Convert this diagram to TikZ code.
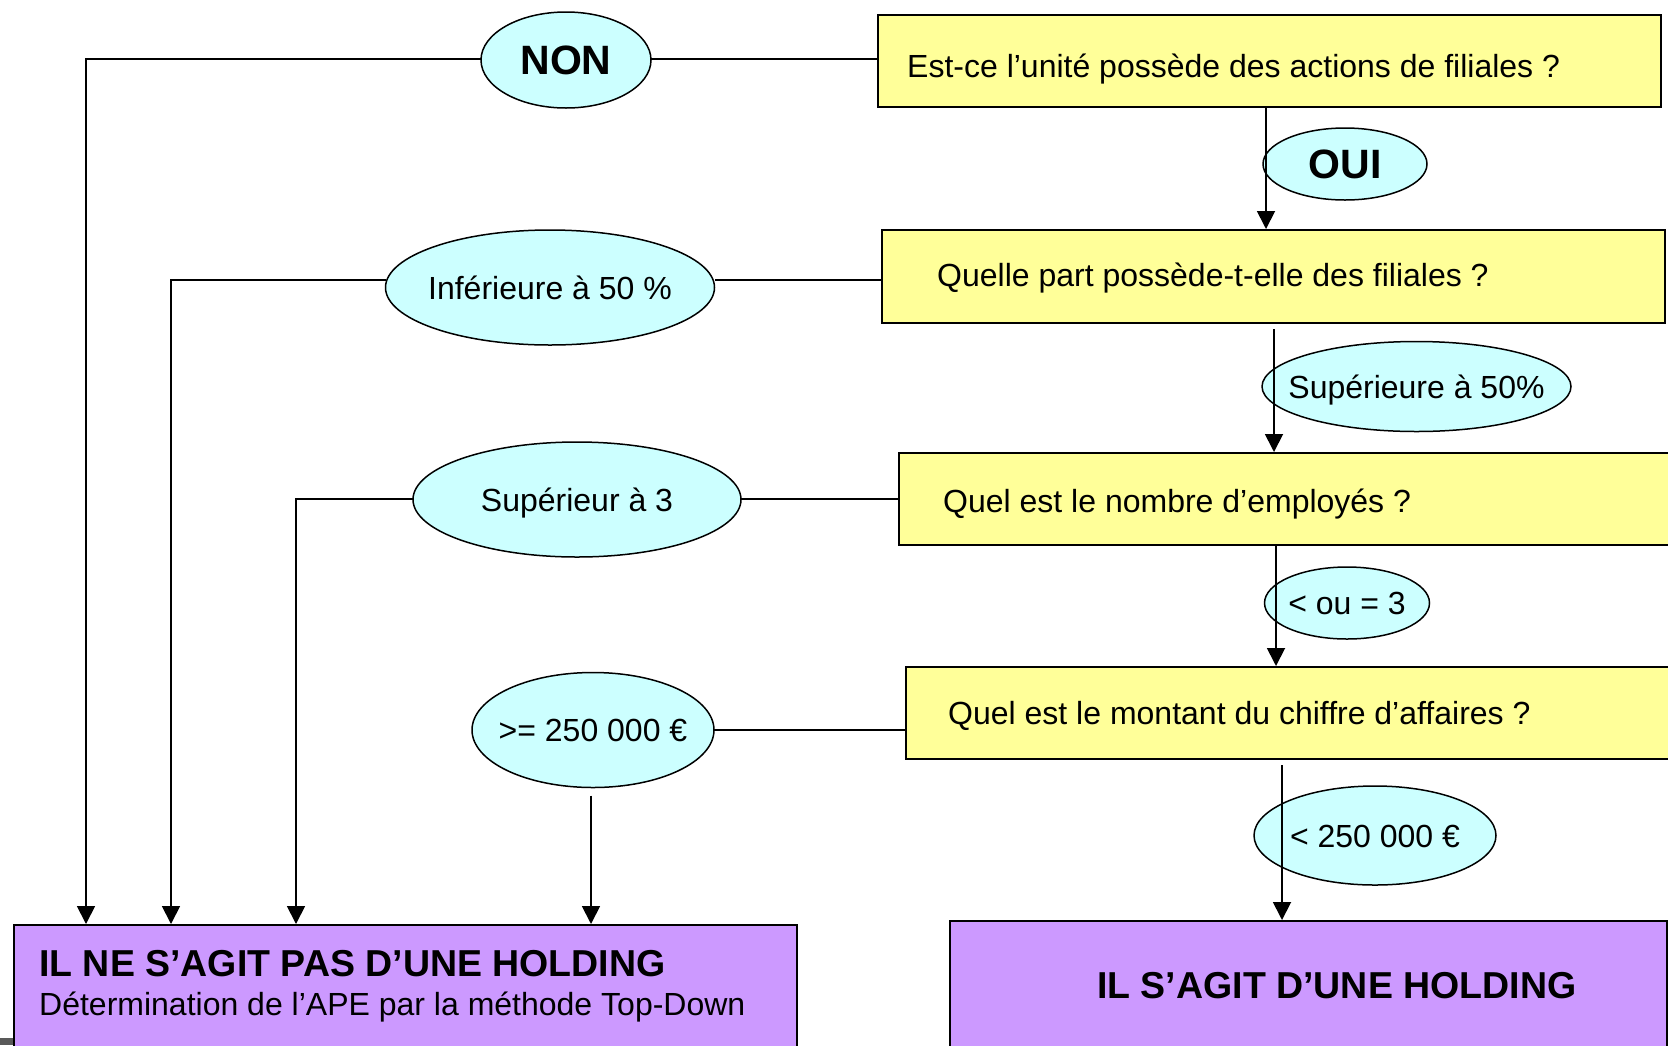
\documentclass[tikz,border=0pt]{standalone}
\usepackage{fontspec}
\setmainfont{Liberation Sans}
\usetikzlibrary{shapes.geometric,arrows.meta}
\definecolor{qyellow}{HTML}{FFFF99}
\definecolor{lcyan}{HTML}{CCFFFF}
\definecolor{lpurple}{HTML}{CC99FF}
\begin{document}
\begin{tikzpicture}[x=1pt,y=-1pt,
  qbox/.style={draw=black, line width=2pt, fill=qyellow, rectangle, inner sep=0pt, anchor=north west},
  hbox/.style={draw=black, line width=2pt, fill=lpurple, rectangle, inner sep=0pt, anchor=north west},
  oval/.style={ellipse, draw=black, line width=1.5pt, fill=lcyan, inner sep=0pt, outer sep=0pt},
  otext/.style={inner sep=0pt, font=\fontsize{32}{38}\selectfont, text height=23pt, text depth=0pt},
  btext/.style={inner sep=0pt, font=\fontsize{41}{48}\selectfont\bfseries, text height=29.4pt, text depth=0pt},
  qtext/.style={inner sep=0pt, anchor=west, font=\fontsize{32}{38}\selectfont, text height=23pt, text depth=0pt},
  htext/.style={inner sep=0pt, anchor=west, font=\fontsize{37.5}{44}\selectfont\bfseries, text height=26.8pt, text depth=0pt},
  conn/.style={draw=black, line width=1.8pt},
  arr/.style={conn, -{Triangle[length=18pt,width=18pt]}}
]
\useasboundingbox (0,0) rectangle (1668,1045);

% question boxes
\node[qbox, minimum width=783pt, minimum height=92pt] (q1) at (877,14) {};
\node[qbox, minimum width=783pt, minimum height=93pt] (q2) at (881,229) {};
\node[qbox, minimum width=780pt, minimum height=92pt] (q3) at (898,452) {};
\node[qbox, minimum width=773pt, minimum height=92pt] (q4) at (905,666) {};
\node[qtext] (q1t) at (907,66) {Est-ce l’unité possède des actions de filiales ?};
\node[qtext] (q2t) at (937,275) {Quelle part possède-t-elle des filiales ?};
\node[qtext] (q3t) at (943,501) {Quel est le nombre d’employés ?};
\node[qtext] (q4t) at (948,713) {Quel est le montant du chiffre d’affaires ?};

% result boxes
\node[hbox, minimum width=717pt, minimum height=150pt] (h5) at (949,920) {};
\node[hbox, minimum width=783pt, minimum height=146pt] (h6) at (13,924) {};
\node[htext] (h5t) at (1097,985) {IL S’AGIT D’UNE HOLDING};
\node[htext] (h6t) at (39,963) {IL NE S’AGIT PAS D’UNE HOLDING};
\node[qtext] (h6s) at (39,1004) {Détermination de l’APE par la méthode Top-Down};

% answer ovals
\node[oval, minimum width=170pt, minimum height=96pt] (non) at (566,60) {};
\node[btext] (nont) at (non.center) {NON};
\node[oval, minimum width=164pt, minimum height=72pt] (oui) at (1345,164) {};
\node[btext] (ouit) at (oui.center) {OUI};
\node[oval, minimum width=329pt, minimum height=115pt] (inf) at (550,287.5) {};
\node[otext] (inft) at (inf.center) {Inférieure à 50 \%};
\node[oval, minimum width=309pt, minimum height=90pt] (supp) at (1416.5,386.5) {};
\node[otext] (suppt) at (supp.center) {Supérieure à 50\%};
\node[oval, minimum width=328pt, minimum height=115pt] (sup3) at (577,499.5) {};
\node[otext] (sup3t) at (sup3.center) {Supérieur à 3};
\node[oval, minimum width=165pt, minimum height=72pt] (ou3) at (1347,603) {};
\node[otext] (ou3t) at (ou3.center) {< ou = 3};
\node[oval, minimum width=242pt, minimum height=115pt] (ge) at (593,730) {};
\node[otext] (get) at (ge.center) {>= 250 000 €};
\node[oval, minimum width=242pt, minimum height=99pt] (lt) at (1375,835.5) {};
\node[otext] (ltt) at (lt.center) {< 250 000 €};

% coordinates for vertical runs
\coordinate (c1) at (86,59);
\coordinate (c2) at (171,280);
\coordinate (c3) at (296,499);
\coordinate (c4) at (591,0);
\coordinate (v1) at (1266,0);
\coordinate (v2) at (1274,0);
\coordinate (v3) at (1276,0);
\coordinate (v4) at (1282,0);

% left-hand connectors
\draw[conn] (q1.west |- c1) -- (non.east |- c1);
\draw[arr] (non.west |- c1) -- (c1) -- (c1 |- h6.north);
\draw[conn] (q2.west |- c2) -- (inf.east |- c2);
\draw[arr] (inf.west |- c2) -- (c2) -- (c2 |- h6.north);
\draw[conn] (q3.west |- c3) -- (sup3.east |- c3);
\draw[arr] (sup3.west |- c3) -- (c3) -- (c3 |- h6.north);
\draw[conn] (q4.west |- ge.east) -- (ge.east);
\draw[arr] ([yshift=-8pt]ge.south -| c4) -- (c4 |- h6.north);

% right-hand connectors
\draw[arr] (q1.south -| v1) -- (q2.north -| v1);
\draw[arr] ([yshift=-5pt]q2.south -| v2) -- (q3.north -| v2);
\draw[arr] (q3.south -| v3) -- (q4.north -| v3);
\draw[arr] ([yshift=-5pt]q4.south -| v4) -- (h5.north -| v4);

% small grey mark at the bottom-left corner
\fill[black!65] (0,1038) rectangle (13,1045);
\end{tikzpicture}
\end{document}
